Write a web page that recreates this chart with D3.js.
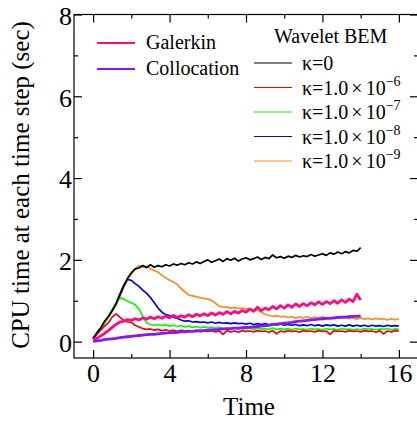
<!DOCTYPE html>
<html>
<head>
<meta charset="utf-8">
<script src="https://cdn.jsdelivr.net/npm/d3@7"></script>
<style>
  html, body { margin: 0; padding: 0; background: #fff; }
  svg { display: block; font-family: "Liberation Serif", "Times New Roman", serif; }
</style>
</head>
<body>
<svg id="chart" width="417" height="423"></svg>
<script>
// Sampling interval of the simulation (time units between recorded steps)
const timeStep = 0.2;

// CPU time per step, Wavelet BEM with different thresholds kappa
const kappa0 = [0.08,0.22,0.34,0.50,0.62,0.76,0.92,1.14,1.36,1.55,
  1.68,1.78,1.80,1.86,1.81,1.88,1.82,1.86,1.83,1.88,
  1.85,1.90,1.87,1.91,1.88,1.93,1.90,1.95,1.91,1.96,
  2.00,1.94,1.98,2.02,1.96,2.03,1.99,2.04,1.97,2.02,
  2.05,2.00,2.03,2.07,2.01,2.06,2.03,2.12,2.05,2.08,
  2.04,2.09,2.06,2.11,2.07,2.10,2.08,2.13,2.09,2.12,
  2.15,2.11,2.17,2.14,2.19,2.15,2.20,2.17,2.23,2.21,
  2.30];

const kappa6 = [0.08,0.18,0.28,0.38,0.46,0.60,0.68,0.60,0.52,0.48,
  0.47,0.40,0.36,0.32,0.30,0.31,0.28,0.30,0.27,0.29,
  0.26,0.28,0.25,0.28,0.26,0.27,0.25,0.28,0.24,0.27,
  0.25,0.27,0.24,0.26,0.18,0.27,0.24,0.26,0.23,0.27,
  0.25,0.26,0.24,0.27,0.25,0.26,0.23,0.27,0.19,0.26,
  0.24,0.27,0.25,0.26,0.23,0.27,0.25,0.26,0.24,0.27,
  0.25,0.26,0.18,0.27,0.25,0.26,0.24,0.27,0.25,0.26,
  0.24,0.27,0.25,0.26,0.23,0.27,0.19,0.26,0.24,0.27,
  0.26];

const kappa7 = [0.07,0.20,0.32,0.46,0.60,0.78,0.94,1.08,1.04,0.99,
  0.95,0.90,0.80,0.62,0.46,0.42,0.40,0.42,0.39,0.41,
  0.38,0.40,0.37,0.39,0.36,0.38,0.35,0.37,0.34,0.36,
  0.34,0.35,0.33,0.35,0.32,0.34,0.32,0.34,0.31,0.33,
  0.31,0.33,0.30,0.33,0.31,0.32,0.30,0.33,0.30,0.32,
  0.30,0.32,0.29,0.32,0.30,0.31,0.29,0.32,0.30,0.31,
  0.29,0.32,0.30,0.31,0.29,0.32,0.30,0.31,0.29,0.31,
  0.29,0.32,0.30,0.31,0.29,0.31,0.30,0.32,0.29,0.31,
  0.30];

const kappa8 = [0.07,0.21,0.33,0.47,0.61,0.76,0.94,1.16,1.38,1.52,
  1.50,1.42,1.35,1.26,1.18,1.08,0.95,0.82,0.72,0.66,
  0.64,0.60,0.57,0.53,0.50,0.51,0.48,0.49,0.47,0.48,
  0.46,0.48,0.45,0.47,0.45,0.46,0.44,0.46,0.44,0.45,
  0.43,0.45,0.42,0.44,0.42,0.44,0.41,0.43,0.41,0.43,
  0.40,0.42,0.40,0.42,0.39,0.41,0.39,0.42,0.39,0.41,
  0.38,0.41,0.39,0.41,0.38,0.40,0.38,0.41,0.38,0.40,
  0.38,0.40,0.37,0.40,0.38,0.39,0.37,0.40,0.38,0.39,
  0.38];

const kappa9 = [0.06,0.20,0.32,0.46,0.60,0.74,0.90,1.10,1.32,1.52,
  1.66,1.78,1.86,1.82,1.85,1.78,1.74,1.70,1.62,1.56,
  1.50,1.46,1.40,1.30,1.22,1.14,1.12,1.10,1.07,1.06,
  1.04,1.01,0.94,0.87,0.84,0.85,0.82,0.83,0.81,0.82,
  0.80,0.79,0.78,0.77,0.72,0.67,0.64,0.62,0.63,0.61,
  0.62,0.59,0.61,0.58,0.60,0.58,0.61,0.57,0.60,0.58,
  0.61,0.57,0.59,0.56,0.60,0.57,0.59,0.56,0.58,0.55,
  0.58,0.55,0.57,0.54,0.57,0.55,0.56,0.53,0.56,0.54,
  0.55];

// Conventional BEM reference solvers
const galerkin = [0.05,0.08,0.14,0.20,0.27,0.35,0.42,0.48,0.50,0.54,
  0.52,0.56,0.53,0.58,0.55,0.60,0.56,0.61,0.57,0.62,
  0.58,0.64,0.59,0.63,0.60,0.66,0.61,0.67,0.63,0.68,
  0.64,0.70,0.65,0.71,0.67,0.73,0.68,0.74,0.70,0.76,
  0.72,0.80,0.74,0.84,0.76,0.82,0.78,0.86,0.80,0.88,
  0.82,0.90,0.84,0.92,0.86,0.93,0.88,0.95,0.90,0.97,
  0.91,0.98,0.93,1.00,0.94,1.02,0.96,1.04,0.98,1.16,
  1.02];

const collocation = [0.01,0.02,0.03,0.05,0.06,0.07,0.08,0.10,0.11,0.12,
  0.13,0.14,0.15,0.16,0.17,0.18,0.18,0.19,0.20,0.21,
  0.22,0.22,0.23,0.24,0.24,0.25,0.25,0.26,0.27,0.27,
  0.28,0.29,0.29,0.30,0.31,0.31,0.32,0.33,0.33,0.34,
  0.35,0.35,0.36,0.37,0.38,0.39,0.40,0.42,0.43,0.44,
  0.45,0.46,0.47,0.49,0.50,0.51,0.52,0.53,0.54,0.55,
  0.56,0.57,0.57,0.58,0.59,0.60,0.60,0.61,0.62,0.62,
  0.63];

// Axis ticks
const xMajorTicks = [0, 4, 8, 12, 16];
const xMinorTicks = [2, 6, 10, 14];
const yMajorTicks = [0, 2, 4, 6, 8];
const yMinorTicks = [1, 3, 5, 7];

// Series drawn in the plot (back to front)
const waveletSeries = [
  { label: "-9", values: kappa9, color: "#ff8c1a" },
  { label: "-8", values: kappa8, color: "#0000ff" },
  { label: "-7", values: kappa7, color: "#00ff00" },
  { label: "-6", values: kappa6, color: "#ff0000" },
  { label: "0",  values: kappa0, color: "#000000" }
];
const referenceSeries = [
  { label: "Galerkin",    values: galerkin,    color: "#ff0a80" },
  { label: "Collocation", values: collocation, color: "#8a14ff" }
];

const svg = d3.select("#chart");
const serif = "Liberation Serif";

const x = d3.scaleLinear().domain([-1, 17]).range([74, 418]);
const y = d3.scaleLinear().domain([-0.4, 8]).range([358, 14.5]);

const line = d3.line()
  .x((d, i) => x(i * timeStep))
  .y(d => y(d));

// Data curves
const plot = svg.append("g");
waveletSeries.forEach(s => {
  plot.append("path")
    .attr("d", line(s.values))
    .attr("fill", "none")
    .attr("stroke", s.color)
    .attr("stroke-width", 1.7)
    .attr("stroke-linejoin", "round");
});
referenceSeries.forEach(s => {
  plot.append("path")
    .attr("d", line(s.values))
    .attr("fill", "none")
    .attr("stroke", s.color)
    .attr("stroke-width", 2.8)
    .attr("stroke-linejoin", "round");
});

// Frame
svg.append("rect")
  .attr("x", x(-1)).attr("y", y(8))
  .attr("width", x(17) - x(-1)).attr("height", y(-0.4) - y(8))
  .attr("fill", "none").attr("stroke", "#000").attr("stroke-width", 1.2);

function styleAxis(g) {
  g.attr("font-family", serif);
  g.select(".domain").remove();
  g.selectAll(".tick line").attr("stroke", "#000").attr("stroke-width", 1.2);
}

// Bottom axis: labelled major ticks, inward
const bottom = svg.append("g").attr("transform", `translate(0,${y(-0.4)})`)
  .call(d3.axisBottom(x).tickValues(xMajorTicks).tickSize(-8).tickSizeOuter(0).tickFormat(d3.format("d")))
  .call(styleAxis);
bottom.selectAll("text")
  .attr("y", 24).attr("dy", null)
  .attr("font-family", serif).attr("font-size", 26).attr("fill", "#000");
svg.append("g").attr("transform", `translate(0,${y(-0.4)})`)
  .call(d3.axisBottom(x).tickValues(xMinorTicks).tickSize(-4).tickSizeOuter(0).tickFormat(""))
  .call(styleAxis);

// Top axis
svg.append("g").attr("transform", `translate(0,${y(8)})`)
  .call(d3.axisTop(x).tickValues(xMajorTicks).tickSize(-8).tickSizeOuter(0).tickFormat(""))
  .call(styleAxis);
svg.append("g").attr("transform", `translate(0,${y(8)})`)
  .call(d3.axisTop(x).tickValues(xMinorTicks).tickSize(-4).tickSizeOuter(0).tickFormat(""))
  .call(styleAxis);

// Left axis
const left = svg.append("g").attr("transform", `translate(${x(-1)},0)`)
  .call(d3.axisLeft(y).tickValues(yMajorTicks).tickSize(-8).tickSizeOuter(0).tickPadding(2).tickFormat(d3.format("d")))
  .call(styleAxis);
left.selectAll("text")
  .attr("dy", "0.38em")
  .attr("font-family", serif).attr("font-size", 26).attr("fill", "#000");
svg.append("g").attr("transform", `translate(${x(-1)},0)`)
  .call(d3.axisLeft(y).tickValues(yMinorTicks).tickSize(-4).tickSizeOuter(0).tickFormat(""))
  .call(styleAxis);

// Right axis
svg.append("g").attr("transform", `translate(${x(17)},0)`)
  .call(d3.axisRight(y).tickValues(yMajorTicks).tickSize(-8).tickSizeOuter(0).tickFormat(""))
  .call(styleAxis);
svg.append("g").attr("transform", `translate(${x(17)},0)`)
  .call(d3.axisRight(y).tickValues(yMinorTicks).tickSize(-4).tickSizeOuter(0).tickFormat(""))
  .call(styleAxis);

// Axis titles
svg.append("text")
  .attr("x", 249).attr("y", 415)
  .attr("text-anchor", "middle")
  .attr("font-family", serif)
  .attr("font-size", 25)
  .text("Time");
svg.append("text")
  .attr("transform", "translate(29,185) rotate(-90)")
  .attr("text-anchor", "middle")
  .attr("font-family", serif)
  .attr("font-size", 25)
  .text("CPU time at each time step (sec)");

// Legend: reference solvers
const legLeft = svg.append("g").attr("font-family", serif);
referenceSeries.forEach((s, i) => {
  const ly = 43 + i * 26;
  legLeft.append("line")
    .attr("x1", 97).attr("x2", 135).attr("y1", ly).attr("y2", ly)
    .attr("stroke", s.color).attr("stroke-width", 2);
  legLeft.append("text")
    .attr("x", 146).attr("y", ly + 6)
    .attr("font-size", 20)
    .text(s.label);
});

// Legend: wavelet thresholds
const legRight = svg.append("g").attr("font-family", serif);
legRight.append("text")
  .attr("x", 274).attr("y", 43)
  .attr("font-size", 20)
  .text("Wavelet BEM");
const legendOrder = ["0", "-6", "-7", "-8", "-9"];
legendOrder.forEach((lab, i) => {
  const s = waveletSeries.find(d => d.label === lab);
  const ly = 63 + i * 24.5;
  legRight.append("line")
    .attr("x1", 254).attr("x2", 292).attr("y1", ly).attr("y2", ly)
    .attr("stroke", s.color).attr("stroke-width", 1.2);
  const t = legRight.append("text")
    .attr("x", 302).attr("y", ly + 7)
    .attr("font-size", 20);
  if (lab === "0") {
    t.text("\u03ba=0");
  } else {
    t.append("tspan").text("\u03ba=1.0");
    t.append("tspan").attr("dx", 3).text("\u00d7");
    t.append("tspan").attr("dx", 3).text("10");
    t.append("tspan")
      .attr("font-size", 14)
      .attr("dy", -9)
      .text(lab.replace("-", "\u2212"));
  }
});
</script>
</body>
</html>
